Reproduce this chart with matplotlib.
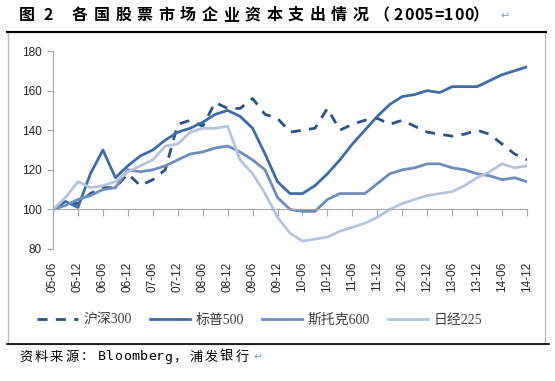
import matplotlib
matplotlib.use('Agg')
import matplotlib.pyplot as plt
from matplotlib.lines import Line2D
from matplotlib.patches import Rectangle

# ---------------- data ----------------
csi300 = [100, 103, 103, 108, 111, 111, 118, 112, 115, 120, 143, 145, 142, 154, 151, 151, 156, 148, 146, 139,
          140, 141, 151, 140, 143, 145, 146, 143, 145, 142, 139, 138, 137, 138, 140, 138, 133, 128, 125]
sp500 = [100, 104, 101, 118, 130, 116, 122, 127, 130, 135, 139, 141, 144, 148, 150, 147, 141, 128, 114, 108,
         108, 112, 118, 125, 133, 140, 147, 153, 157, 158, 160, 159, 162, 162, 162, 165, 168, 170, 172]
stoxx600 = [100, 102, 105, 107, 110, 111, 120, 119, 120, 122, 125, 128, 129, 131, 132, 129, 125, 120, 106, 100,
            99, 99, 105, 108, 108, 108, 113, 118, 120, 121, 123, 123, 121, 120, 118, 117, 115, 116, 114]
nikkei225 = [100, 106, 114, 111, 112, 114, 119, 122, 125, 132, 133, 139, 141, 141, 142, 125, 118, 108, 96, 88,
             84, 85, 86, 89, 91, 93, 96, 100, 103, 105, 107, 108, 109, 112, 116, 119, 123, 121, 122]
series_names = ['沪深300', '标普500', '斯托克600', '日经225']
tick_labels = ['05-06', '05-12', '06-06', '06-12', '07-06', '07-12', '08-06', '08-12', '09-06', '09-12',
               '10-06', '10-12', '11-06', '11-12', '12-06', '12-12', '13-06', '13-12', '14-06', '14-12']
y_ticks = [80, 100, 120, 140, 160, 180]

# ---------------- figure ----------------
W, H = 555, 381
fig = plt.figure(figsize=(W / 100, H / 100), dpi=100)
fig.patch.set_facecolor('white')

def fx(px):
    return px / W

def fy(py):
    return 1 - py / H

ax = fig.add_axes([fx(53), fy(249), (527 - 53) / W, (249 - 51) / H])
ax.set_facecolor('white')

x = list(range(len(csi300)))
c_csi, c_sp, c_st, c_nk = '#2B5282', '#3D6CAA', '#6D8DBD', '#B5C3DC'
ax.plot(x, csi300, color=c_csi, lw=2.0, dashes=(3.6, 3.0), dash_capstyle='butt', label=series_names[0])
ax.plot(x, sp500, color=c_sp, lw=2.0, label=series_names[1])
ax.plot(x, stoxx600, color=c_st, lw=2.0, label=series_names[2])
ax.plot(x, nikkei225, color=c_nk, lw=2.0, label=series_names[3])

ax.set_xlim(0, len(x) - 1)
ax.set_ylim(80, 180)
ax.set_yticks(y_ticks)
ax.set_yticklabels([str(v) for v in y_ticks], family='Liberation Sans', fontsize=8.5, color='#262626')

for s in ['top', 'right']:
    ax.spines[s].set_visible(False)
ax.spines['left'].set_color('#A6A6A6')
ax.spines['bottom'].set_color('#A6A6A6')
ax.spines['bottom'].set_position(('data', 100))
ax.tick_params(axis='y', direction='out', length=4, color='#A6A6A6', pad=4)

tick_pos = list(range(0, len(x), 2))
ax.set_xticks(tick_pos)
ax.tick_params(axis='x', direction='out', length=5, color='#A6A6A6', labelbottom=False)

sec = ax.secondary_xaxis(0.0)
sec.set_xticks(tick_pos)
sec.set_xticklabels(tick_labels, family='Liberation Sans', fontsize=8.5, color='#262626')
sec.tick_params(axis='x', length=0, pad=9, labelrotation=90)
sec.spines['bottom'].set_visible(False)

# legend
handles, labels = ax.get_legend_handles_labels()
fig.legend(handles, labels, loc='center', bbox_to_anchor=(fx(260), fy(320)), ncol=4, frameon=False,
           handlelength=2.9, handletextpad=0.4, columnspacing=1.3,
           prop={'family': ['Liberation Serif', 'Noto Sans CJK SC'], 'size': 10}, labelcolor='#404040')

# frame
fig.add_artist(Rectangle((fx(8), fy(344)), (545 - 8) / W, (344 - 32) / H, transform=fig.transFigure,
                         fill=False, edgecolor='#BFBFBF', lw=1.0))
fig.add_artist(Line2D([fx(7), fx(546)], [fy(32), fy(32)], color='black', lw=1.5, transform=fig.transFigure))
fig.add_artist(Line2D([fx(7), fx(549)], [fy(344), fy(344)], color='black', lw=1.2, transform=fig.transFigure))

# title (letter-spaced)
def draw_chars(text, x0, y, adv, **kw):
    for k, ch in enumerate(text):
        fig.text(fx(x0 + k * adv), fy(y), ch, ha='left', va='center', **kw)

tkw = dict(family=['Noto Sans CJK SC'], fontsize=11.5, fontweight='bold', color='black')
draw_chars('图', 19, 15, 0, **tkw)
draw_chars('2', 43, 15, 0, **tkw)
draw_chars('各国股票市场企业资本支出情况', 72, 15, 21.6, **tkw)
draw_chars('（', 373, 15, 0, **tkw)
draw_chars('2005=100', 394, 15, 10.0, **tkw)
draw_chars('）', 472, 15, 0, **tkw)
fig.text(fx(500), fy(16), '↵', ha='left', va='center', fontsize=8, color='#7F9FD0', family='DejaVu Sans')

# footer
fkw = dict(family=['Noto Sans CJK SC'], fontsize=9.5, color='black')
draw_chars('资料来源：', 19, 357, 15.4, **fkw)
draw_chars('Bloomberg', 98, 357, 8.3, family=['DejaVu Sans Mono'], fontsize=9.5, color='black')
draw_chars('，', 173, 357, 0, **fkw)
draw_chars('浦发银行', 189, 357, 15.5, **fkw)
fig.text(fx(253), fy(357), '↵', ha='left', va='center', fontsize=8, color='#7F9FD0', family='DejaVu Sans')

fig.savefig('out.png', dpi=100, facecolor='white')
